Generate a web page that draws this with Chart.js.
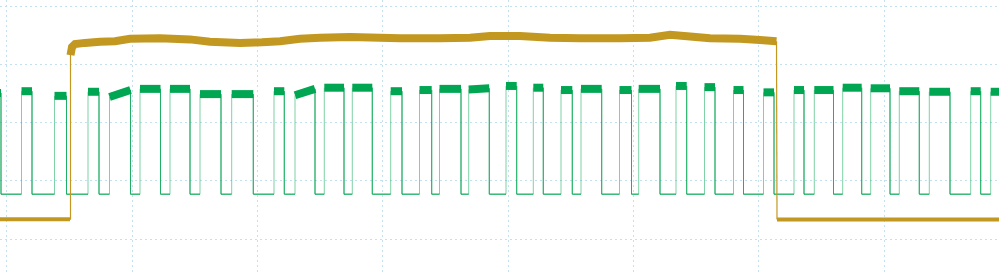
<!DOCTYPE html>
<html>
<head>
<meta charset="utf-8">
<script src="https://cdn.jsdelivr.net/npm/chart.js@4"></script>
<style>
  html, body { margin: 0; padding: 0; background: #fff; }
  #wrap { width: 999px; height: 274px; position: relative; }
</style>
</head>
<body>
<div id="wrap"><canvas id="scopeChart"></canvas></div>
<script>
// time axis in samples (about 125 samples per division), 1 V per division
var gridTimes = [6.7, 132, 257.3, 382.6, 508, 633.3, 758.6, 884];
var gridVolts = [0, 1, 2, 3, 4];

// channel 1 (gold) - enable line, stepped up then back down
var ch1Time = [0, 70, 70.5, 72, 75, 85, 100, 115, 130, 160, 190, 210, 240, 262, 280, 300, 320, 350,
               400, 440, 470, 490, 520, 550, 580, 620, 650, 670, 690, 710, 740, 760, 776.5, 777, 999];
var ch1Volt = [0.34, 0.34, 3.16, 3.30, 3.35, 3.37, 3.39, 3.40, 3.44, 3.45, 3.43, 3.39, 3.37, 3.38, 3.40, 3.44, 3.46, 3.47,
               3.45, 3.45, 3.46, 3.49, 3.49, 3.46, 3.45, 3.45, 3.46, 3.51, 3.48, 3.45, 3.44, 3.42, 3.40, 0.335, 0.335];

// channel 2 (green) - pulse train, one entry per pulse
var ch2Rise = [-5, 21.5, 54.5, 88, 109.5, 140, 170, 200, 231.7, 274, 295, 324.3, 352.3, 390.7, 419.5, 439.5, 468.7,
               506, 533.3, 561, 581, 619.5, 638.7, 676, 704.5, 733.5, 763.5, 794, 814.3, 842.7, 870.7, 899.3,
               929.3, 970.7, 990.7];
var ch2Fall = [1, 32, 66.5, 99, 130.5, 160.5, 190, 221, 253.3, 284.3, 315, 344, 372.3, 402, 431.7, 461, 489.3,
               516.7, 543.3, 572.3, 601.7, 631.5, 660, 686.7, 715, 743.5, 774, 804, 833.5, 861.7, 890, 919.3,
               950, 980.7, 1005];
var ch2HighStart = [2.51, 2.54, 2.46, 2.53, 2.44, 2.58, 2.58, 2.49, 2.49, 2.54, 2.47, 2.60, 2.60, 2.54, 2.56, 2.58, 2.57,
                    2.63, 2.60, 2.56, 2.58, 2.56, 2.58, 2.63, 2.61, 2.56, 2.52, 2.56, 2.56, 2.60, 2.59, 2.54,
                    2.53, 2.54, 2.53];
var ch2HighEnd = [2.51, 2.54, 2.46, 2.53, 2.56, 2.58, 2.58, 2.49, 2.49, 2.54, 2.58, 2.60, 2.60, 2.54, 2.56, 2.58, 2.59,
                  2.63, 2.60, 2.56, 2.58, 2.56, 2.58, 2.63, 2.61, 2.56, 2.52, 2.56, 2.56, 2.60, 2.59, 2.54,
                  2.53, 2.54, 2.53];
var ch2Low = 0.77;

var ch1Points = ch1Time.map(function(t, i) { return {x: t, y: ch1Volt[i]}; });

var ch2Points = [];
for (var i = 0; i < ch2Rise.length; i++) {
    ch2Points.push({x: ch2Rise[i], y: ch2Low});
    ch2Points.push({x: ch2Rise[i], y: ch2HighStart[i]});
    ch2Points.push({x: ch2Fall[i], y: ch2HighEnd[i]});
    ch2Points.push({x: ch2Fall[i], y: ch2Low});
}

function isEdge(ctx) {
    return Math.abs(ctx.p1.parsed.x - ctx.p0.parsed.x) < 1;
}
function isHigh(ctx) {
    return ctx.p0.parsed.y > 1.5 && ctx.p1.parsed.y > 1.5;
}

var ctx = document.getElementById('scopeChart').getContext('2d');
var scopeChart = new Chart(ctx, {
    type: 'line',
    data: {
        datasets: [{
            label: 'CH1',
            data: ch1Points,
            borderColor: '#c29820',
            borderWidth: 4,
            pointRadius: 0,
            tension: 0,
            segment: {
                borderWidth: function(c) { return isEdge(c) ? 1.2 : (isHigh(c) ? 8 : 4); }
            }
        }, {
            label: 'CH2',
            data: ch2Points,
            borderColor: '#00a651',
            borderWidth: 1.5,
            pointRadius: 0,
            tension: 0,
            segment: {
                borderWidth: function(c) { return isEdge(c) ? 1 : (isHigh(c) ? 8 : 1.5); },
                borderColor: function(c) { return isEdge(c) ? 'rgba(0,166,81,0.5)' : (isHigh(c) ? '#00a651' : 'rgba(0,166,81,0.8)'); }
            }
        }]
    },
    options: {
        responsive: true,
        maintainAspectRatio: false,
        animation: false,
        layout: { padding: 0 },
        plugins: {
            legend: { display: false },
            tooltip: { enabled: false }
        },
        scales: {
            x: {
                type: 'linear',
                min: 0,
                max: 999,
                afterBuildTicks: function(s) { s.ticks = gridTimes.map(function(v) { return {value: v}; }); },
                ticks: { display: false },
                grid: { color: '#c3e1ee', lineWidth: 1, drawTicks: false },
                border: { display: false, dash: [2, 3] }
            },
            y: {
                type: 'linear',
                min: -0.601,
                max: 4.107,
                afterBuildTicks: function(s) { s.ticks = gridVolts.map(function(v) { return {value: v}; }); },
                ticks: { display: false },
                grid: { color: '#c3e1ee', lineWidth: 1, drawTicks: false },
                border: { display: false, dash: [2, 3] }
            }
        }
    }
});
</script>
</body>
</html>
